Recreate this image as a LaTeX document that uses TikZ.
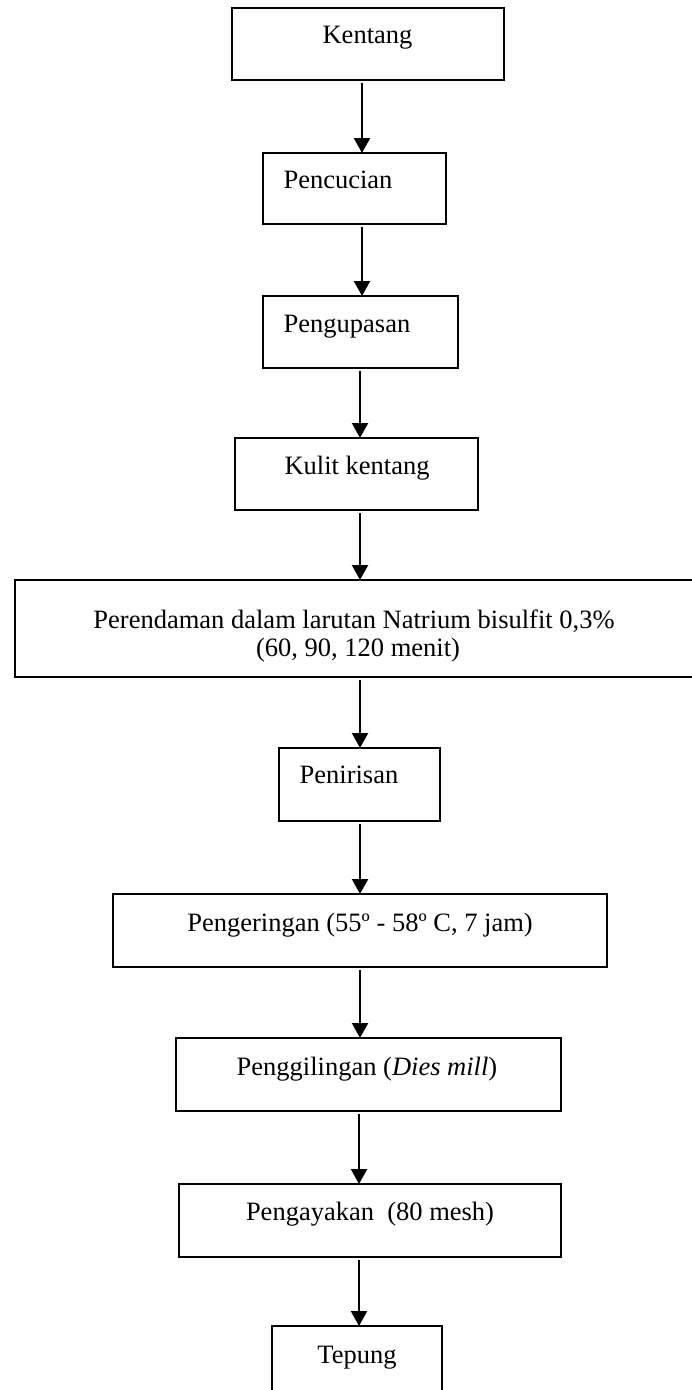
\documentclass[tikz,border=0pt]{standalone}
\usepackage{fontspec}
\setmainfont{Liberation Serif}
\usetikzlibrary{arrows.meta}
\begin{document}
\begin{tikzpicture}[x=1pt,y=-1pt,
  box/.style={draw,line width=1.3pt,inner sep=0pt,outer sep=0pt},
  lbl/.style={anchor=base,inner sep=0pt,font=\fontsize{26.5}{29}\selectfont},
  arr/.style={line width=2.2pt,-{Triangle[width=16pt,length=15pt]},shorten <=3pt}]
\useasboundingbox (0,0) rectangle (692,1390);
\clip (0,0) rectangle (692,1390);
% boxes
\node[box,minimum width=272pt,minimum height=72pt] (k) at (368,44) {};
\node[box,minimum width=183pt,minimum height=71pt] (p1) at (354.5,188.5) {};
\node[box,minimum width=195pt,minimum height=72pt] (p2) at (360.5,332) {};
\node[box,minimum width=243pt,minimum height=72pt] (p3) at (356.5,474) {};
\node[box,minimum width=678pt,minimum height=97pt] (p4) at (354,628.5) {};
\node[box,minimum width=161pt,minimum height=73pt] (p5) at (359.5,784.5) {};
\node[box,minimum width=494pt,minimum height=73pt] (p6) at (360,930.5) {};
\node[box,minimum width=385pt,minimum height=73pt] (p7) at (368.5,1074.5) {};
\node[box,minimum width=382pt,minimum height=73pt] (p8) at (370,1220.5) {};
\node[box,minimum width=170pt,minimum height=80pt] (p9) at (357,1366) {};
% labels
\node[lbl] (tk) at (367.5,43) {Kentang};
\node[lbl] (t1) at (338,188) {Pencucian};
\node[lbl] (t2) at (347,332) {Pengupasan};
\node[lbl] (t3) at (357,474) {Kulit kentang};
\node[lbl] (t4a) at (354,628) {Perendaman dalam larutan Natrium bisulfit 0,3\%};
\node[lbl] (t4b) at (358,656) {(60, 90, 120 menit)};
\node[lbl] (t5) at (349,783) {Penirisan};
\node[lbl] (t6) at (360,931) {Pengeringan (55º - 58º C, 7 jam)};
\node[lbl] (t7) at (367,1075) {Penggilingan (\textit{Dies mill})};
\node[lbl] (t8) at (370,1220) {Pengayakan~ (80 mesh)};
\node[lbl] (t9) at (357,1363) {Tepung};
% arrows
\draw[arr] (k.south -| 362,0) -- (p1.north -| 362,0);
\draw[arr] (p1.south -| 362,0) -- (p2.north -| 362,0);
\draw[arr] (p2.south -| 360,0) -- (p3.north -| 360,0);
\draw[arr] (p3.south -| 360,0) -- (p4.north -| 360,0);
\draw[arr] (p4.south -| 360,0) -- (p5.north -| 360,0);
\draw[arr] (p5.south -| 360,0) -- (p6.north -| 360,0);
\draw[arr] (p6.south -| 360,0) -- (p7.north -| 360,0);
\draw[arr] (p7.south -| 359,0) -- (p8.north -| 359,0);
\draw[arr] (p8.south -| 359,0) -- (p9.north -| 359,0);
\end{tikzpicture}
\end{document}
